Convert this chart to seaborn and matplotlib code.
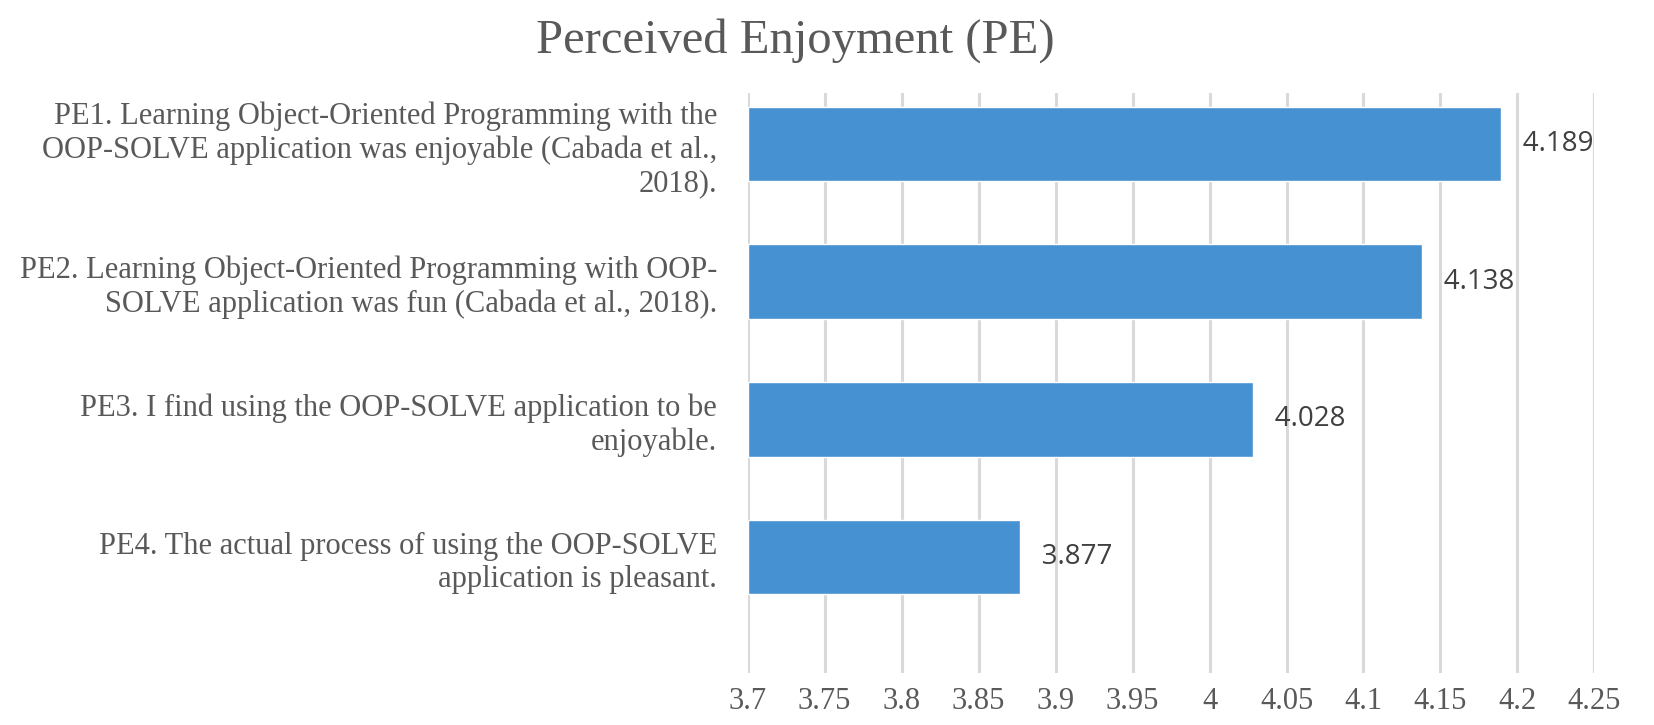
import pandas as pd
import numpy as np
import matplotlib.pyplot as plt
import seaborn as sns

# Items and mean scores for the Perceived Enjoyment construct
items = [
    "PE1. Learning Object-Oriented Programming with the\nOOP-SOLVE application was enjoyable (Cabada et al.,\n2018).",
    "PE2. Learning Object-Oriented Programming with OOP-\nSOLVE application was fun (Cabada et al., 2018).",
    "PE3. I find using the OOP-SOLVE application to be\nenjoyable.",
    "PE4. The actual process of using the OOP-SOLVE\napplication is pleasant.",
]
scores = [4.189, 4.138, 4.028, 3.877]
x_ticks = [3.7, 3.75, 3.8, 3.85, 3.9, 3.95, 4, 4.05, 4.1, 4.15, 4.2, 4.25]
tick_labels = ["3.7", "3.75", "3.8", "3.85", "3.9", "3.95", "4", "4.05", "4.1", "4.15", "4.2", "4.25"]

sns.set_theme(style="white")
plt.rcParams['font.family'] = ['Liberation Serif', 'DejaVu Serif']

df = pd.DataFrame({'Item': items, 'Score': scores})

fig = plt.figure(figsize=(16.54, 7.25), dpi=100)
ax = fig.add_axes([0.452, 0.072, 0.512, 0.80])

sns.barplot(data=df, y='Item', x='Score', orient='h', color='#4691D1',
            saturation=1, width=0.54, ax=ax)

# baseline is 3.7, so redraw bars starting there
for p in ax.patches:
    w = p.get_width()
    p.set_x(3.7)
    p.set_width(w - 3.7)

ax.set_xlim(3.7, 4.25)
ax.set_ylim(3.84, -0.37)
ax.set_xticks(x_ticks)
ax.set_xticklabels(tick_labels, fontsize=22, color='#595959')
ax.tick_params(axis='x', length=0, pad=10)
ax.tick_params(axis='y', length=0, pad=22)
ax.set_yticklabels(items, fontsize=22, color='#595959', ha='right', linespacing=1.2)
ax.set_xlabel('')
ax.set_ylabel('')
ax.grid(axis='x', color='#D9D9D9', linewidth=2.2)
ax.set_axisbelow(True)
for s in ax.spines.values():
    s.set_visible(False)

for i, v in enumerate(scores):
    ax.text(v, i, f'   {v:.3f}', va='center', ha='left', fontsize=20,
            color='#404040', family=['Open Sans', 'DejaVu Sans'])

fig.suptitle('Perceived Enjoyment (PE)', x=0.481, y=0.975, fontsize=35, color='#595959')

plt.savefig('out.png', dpi=100)
plt.close()
